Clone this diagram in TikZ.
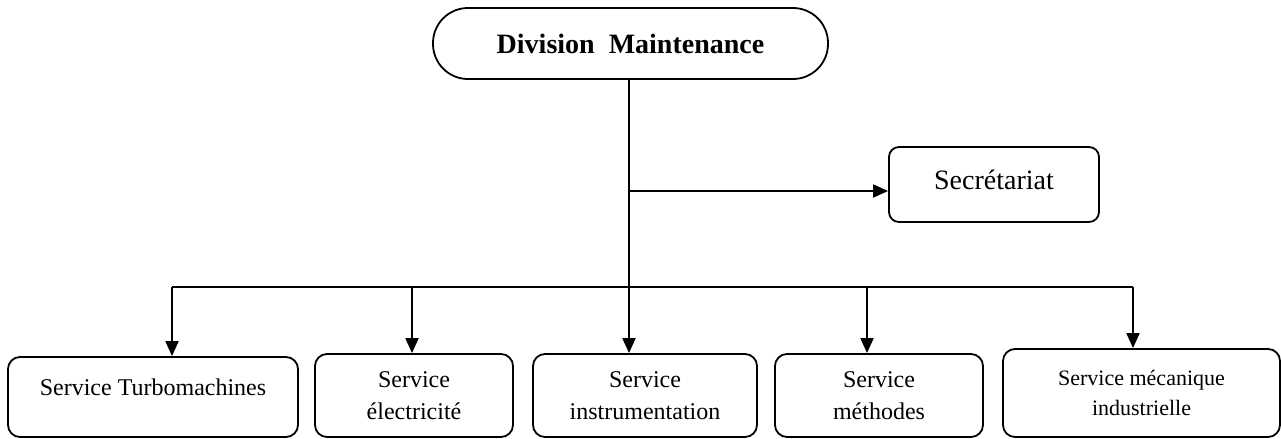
\documentclass[tikz,border=0pt]{standalone}
\usepackage{fontspec}
\setmainfont{Liberation Serif}
\usetikzlibrary{arrows.meta}

\begin{document}
\begin{tikzpicture}[x=0.5pt, y=-0.5pt,
    box/.style={draw=borderColour, line width=0.9pt, rounded corners=6pt, align=center, inner sep=0pt, font=\fontsize{12}{16}\selectfont},
    link/.style={draw=borderColour, line width=0.9pt},
    arrow/.style={link, -{Triangle[length=7.5pt,width=6.5pt]}}]
    \definecolor{borderColour}{HTML}{000000}

    % Frame
    \useasboundingbox (0,0) rectangle (1281,439);

    % Head of the division
    \node[box, rounded corners=17.5pt, minimum width=197.5pt, minimum height=35.5pt, font=\fontsize{14}{17}\selectfont\bfseries] (div) at (630.5,43.5) {Division\ \ Maintenance};
    \node[box, rounded corners=5pt, minimum width=105pt, minimum height=37.5pt, font=\fontsize{14}{17}\selectfont, text depth=4.5pt] (sec) at (994,184.5) {Secrétariat};

    % Services
    \node[box, minimum width=145pt, minimum height=40pt, text depth=10pt] (turbo) at (153,397) {Service Turbomachines};
    \node[box, minimum width=99pt, minimum height=41.5pt] (elec) at (414,395.5) {Service\\électricité};
    \node[box, minimum width=112pt, minimum height=41.5pt] (instr) at (645,395.5) {Service\\instrumentation};
    \node[box, minimum width=104pt, minimum height=41.5pt] (meth) at (879,395.5) {Service\\méthodes};
    \node[box, minimum width=138.5pt, minimum height=44pt, font=\fontsize{11}{15}\selectfont] (meca) at (1141.5,393) {Service mécanique\\industrielle};

    % Bus
    \coordinate (busL) at (172,287);
    \coordinate (busR) at (1133,287);
    \coordinate (secIn) at (629,191);
    \draw[link] (busL) -- (busR);
    \draw[link] (div.south -| secIn) -- (secIn |- busL);
    \draw[arrow] (secIn) -- (secIn -| sec.west);

    % Drops to the services
    \foreach \name/\x in {turbo/172, elec/412, instr/629, meth/867, meca/1133} {
        \coordinate (drop-\name) at (\x,287);
        \draw[arrow] (drop-\name) -- (drop-\name |- \name.north);
    }
\end{tikzpicture}
\end{document}
